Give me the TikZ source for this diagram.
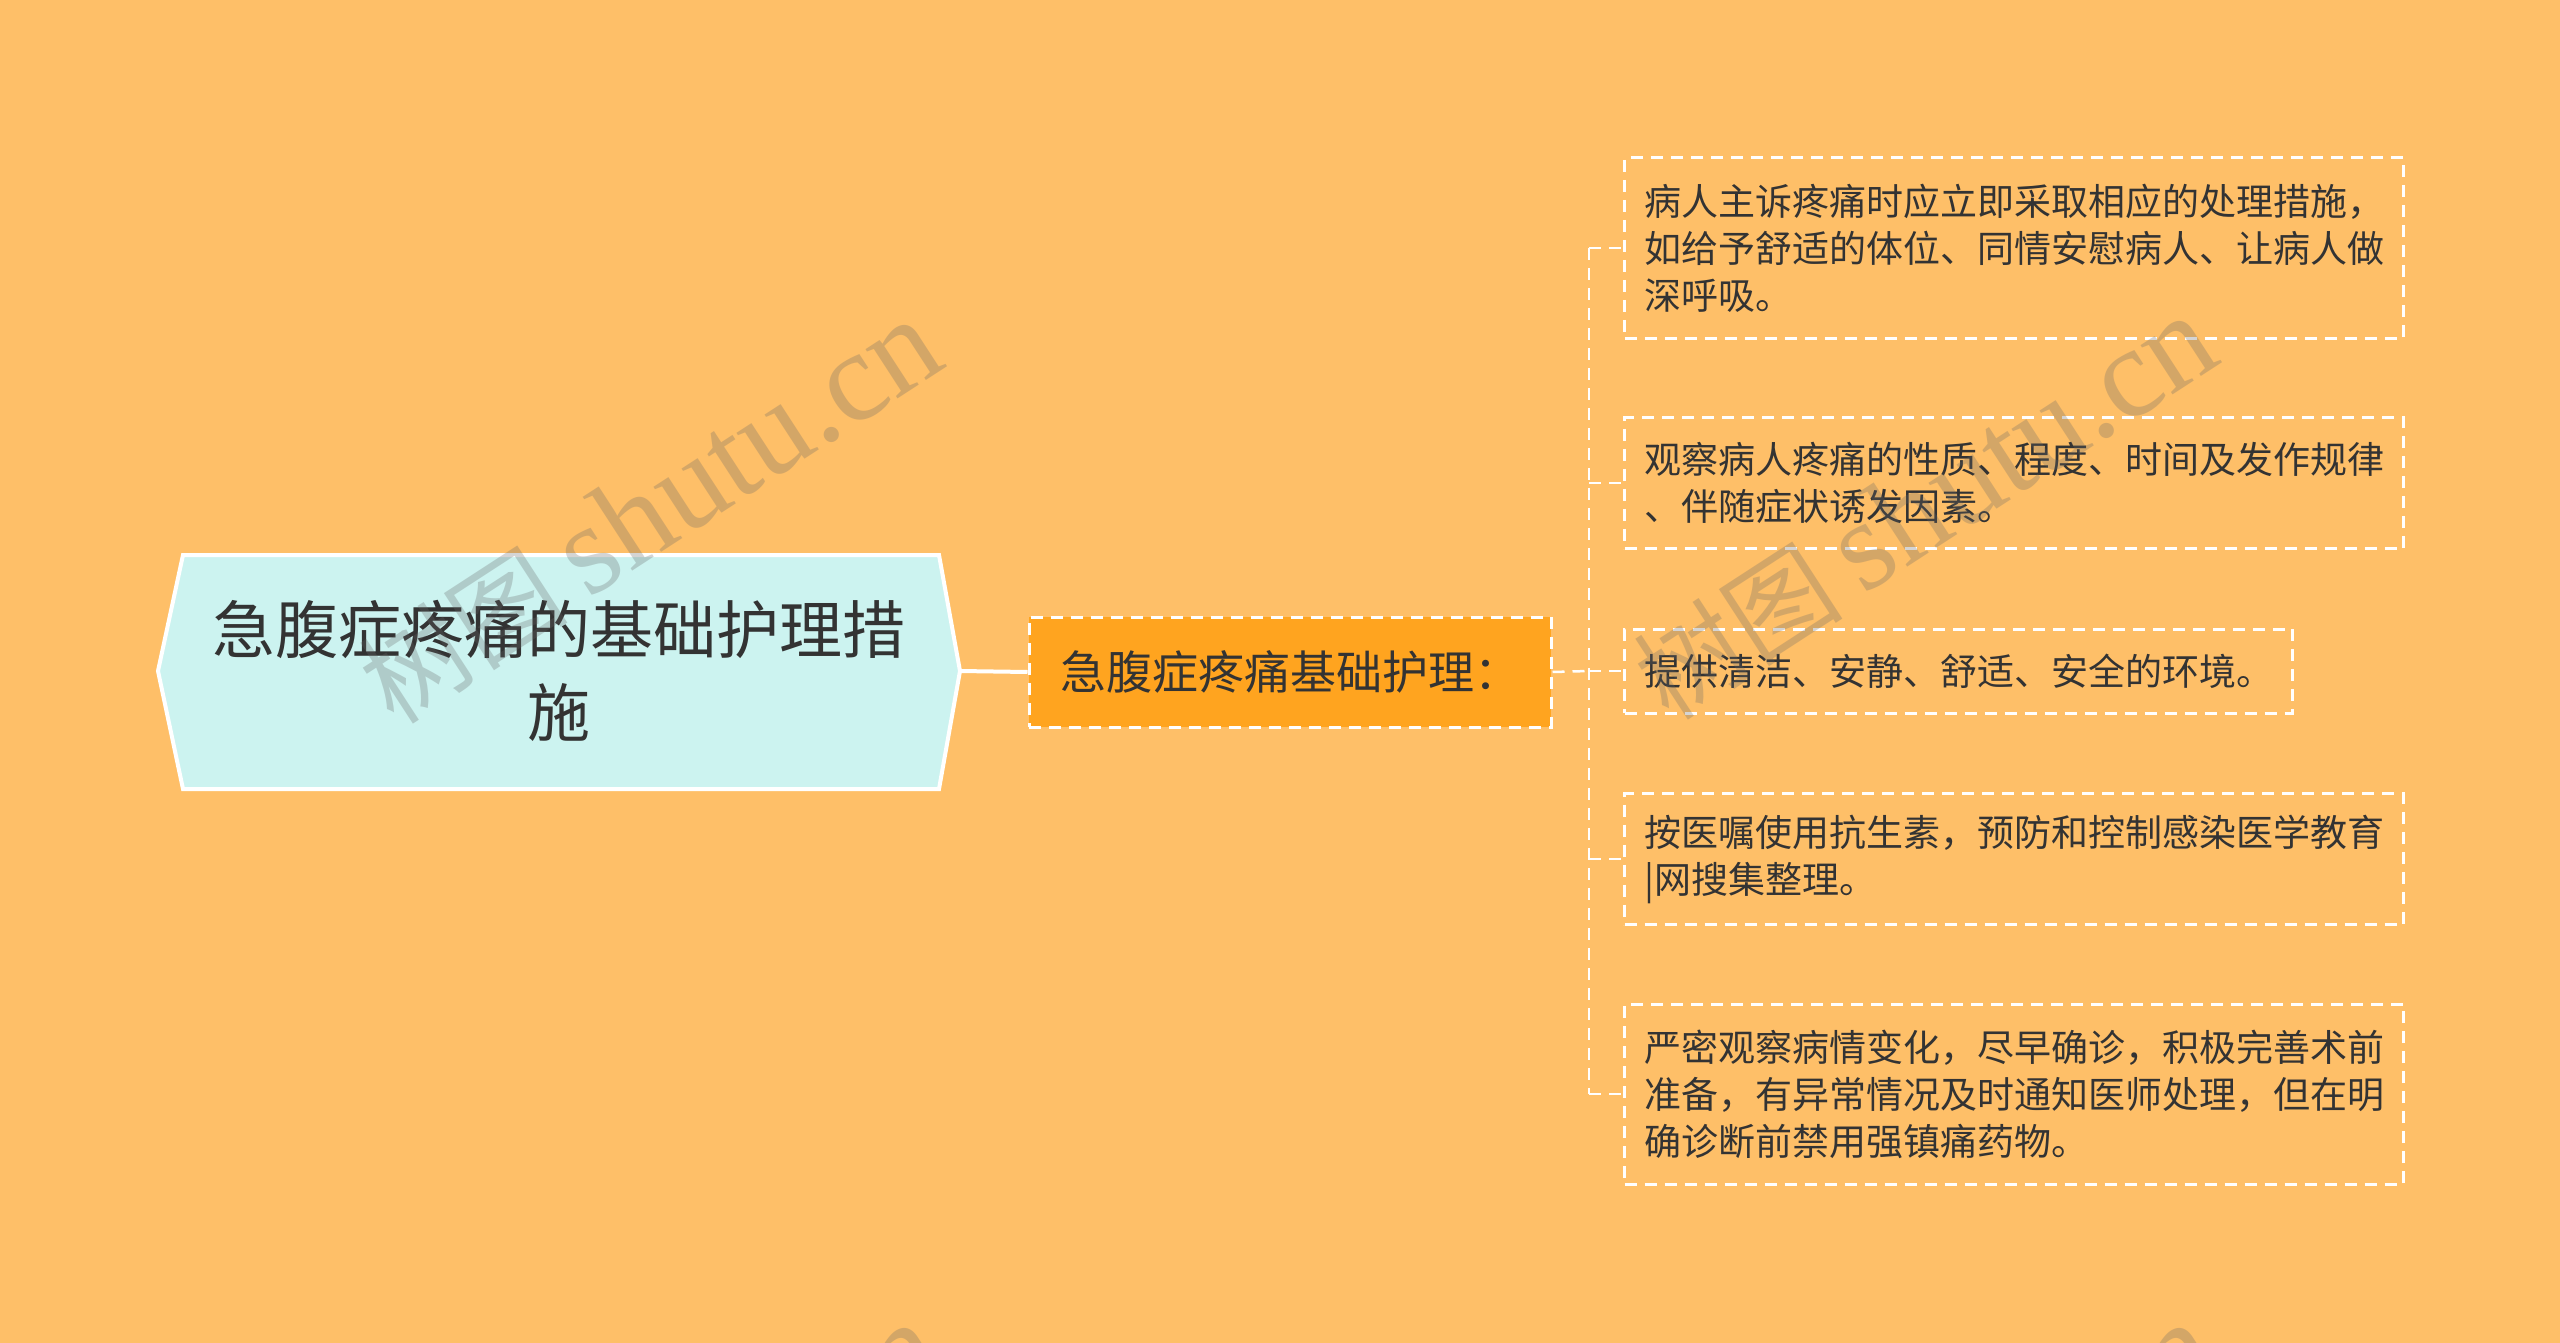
\documentclass[tikz,border=0pt]{standalone}
\usepackage{fontspec}
\setmainfont{Noto Sans CJK SC}
\newfontfamily\wmlatin{Liberation Serif}
\newfontfamily\wmcjk{Noto Sans CJK SC}
\definecolor{bgorange}{HTML}{FEBF68}
\definecolor{midorange}{HTML}{FFA41F}
\definecolor{rootcyan}{HTML}{CCF3F0}
\definecolor{txt}{HTML}{333333}
\begin{document}
\begin{tikzpicture}[x=1pt,y=-1pt,
  every node/.style={inner sep=0pt},
  link/.style={draw=white, line width=4pt},
  dlink/.style={draw=white, line width=2.5pt, dash pattern=on 12pt off 8pt},
  roottext/.style={align=center, text=txt, font=\fontsize{63}{83}\selectfont},
  midbox/.style={draw=white, fill=midorange, line width=3pt, dash pattern=on 12pt off 8pt,
    minimum width=522pt, minimum height=110pt, text=txt, font=\fontsize{46}{56}\selectfont},
  leaf/.style={draw=white, line width=3pt, dash pattern=on 12pt off 8pt, anchor=west,
    inner xsep=19.5pt, align=left, text=txt, font=\fontsize{37}{47}\selectfont},
  wm/.style={rotate=33, text=black!60, opacity=0.28, anchor=center}]
\fill[bgorange] (0,0) rectangle (2560,1343);
\useasboundingbox (0,0) rectangle (2560,1343);
\clip (0,0) rectangle (2560,1343);

% root
\path[fill=rootcyan, draw=white, line width=4pt, line join=miter]
  (158,671) -- (183,555) -- (939,555) -- (960,671) -- (939,789) -- (183,789) -- cycle;
\node[roottext] (root) at (559,671) {急腹症疼痛的基础护理措\\施};
\coordinate (rootE) at (960,671);

% middle
\node[midbox] (mid) at (1290,672) {急腹症疼痛基础护理：};
\draw[link] (rootE) -- (mid.west);

% leaves
\node[leaf, minimum height=180pt] (l1) at (1623,248)
  {病人主诉疼痛时应立即采取相应的处理措施，\\如给予舒适的体位、同情安慰病人、让病人做\\深呼吸。};
\node[leaf, minimum height=131pt] (l2) at (1623,483)
  {观察病人疼痛的性质、程度、时间及发作规律\\、伴随症状诱发因素。};
\node[leaf, minimum height=84pt] (l3) at (1623,671)
  {提供清洁、安静、舒适、安全的环境。};
\node[leaf, minimum height=131pt] (l4) at (1623,859)
  {按医嘱使用抗生素，预防和控制感染医学教育\\|网搜集整理。};
\node[leaf, minimum height=180pt] (l5) at (1623,1094)
  {严密观察病情变化，尽早确诊，积极完善术前\\准备，有异常情况及时通知医师处理，但在明\\确诊断前禁用强镇痛药物。};

% connectors
\coordinate (trunk) at (1589,671);
\draw[dlink] (mid.east) -- (trunk);
\draw[dlink] (trunk |- l1.west) -- (trunk |- l5.west);
\foreach \n in {l1,l2,l3,l4,l5}{
  \draw[dlink] (trunk |- \n.west) -- (\n.west);
}

% watermarks
\foreach \cx/\cy in {650/512, 1925/508, 650/1515, 1925/1515}{
  \node[wm] at (\cx,\cy) {{\wmcjk\fontsize{105}{105}\selectfont 树图}\hspace{22pt}{\wmlatin\fontsize{128}{128}\selectfont shutu.cn}};
}
\end{tikzpicture}
\end{document}
